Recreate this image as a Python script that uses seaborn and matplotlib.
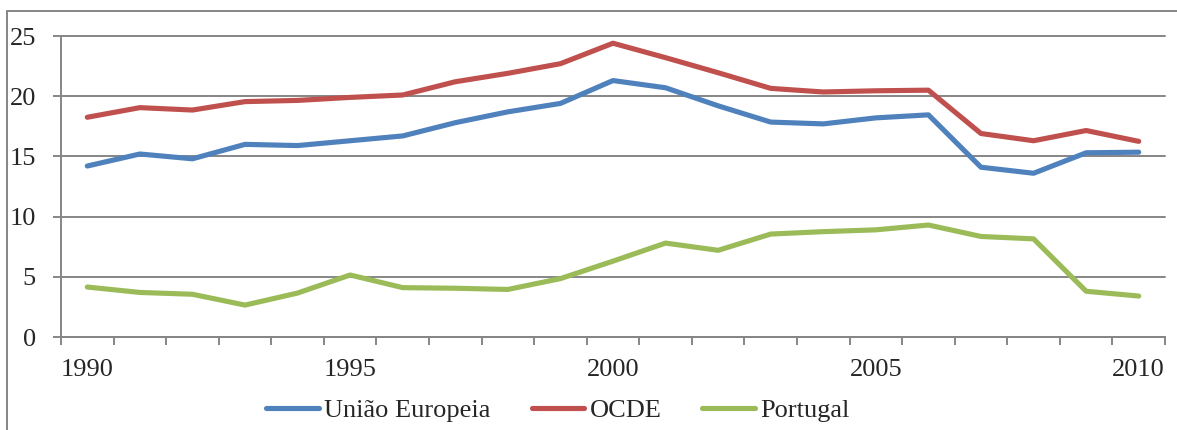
import matplotlib
matplotlib.use("Agg")
import matplotlib.pyplot as plt
from matplotlib.lines import Line2D
from matplotlib.ticker import FixedLocator, NullFormatter
import numpy as np
import pandas as pd
import seaborn as sns

years = list(range(1990, 2011))
uniao_europeia = [14.2, 15.2, 14.8, 16.0, 15.9, 16.3, 16.7, 17.8, 18.7, 19.4, 21.3,
                  20.7, 19.2, 17.85, 17.7, 18.2, 18.45, 14.1, 13.6, 15.3, 15.35]
ocde = [18.25, 19.05, 18.85, 19.55, 19.65, 19.9, 20.1, 21.2, 21.9, 22.7, 24.4,
        23.2, 21.95, 20.65, 20.35, 20.45, 20.5, 16.9, 16.3, 17.15, 16.25]
portugal = [4.15, 3.7, 3.55, 2.65, 3.65, 5.15, 4.1, 4.05, 3.95, 4.85, 6.3,
            7.8, 7.2, 8.55, 8.75, 8.9, 9.3, 8.35, 8.15, 3.8, 3.4]

series_names = ["União Europeia", "OCDE", "Portugal"]
colors = ["#4F81BD", "#C0504D", "#9BBB59"]
x_labels = [1990, 1995, 2000, 2005, 2010]

df = pd.DataFrame({
    "Ano": years * 3,
    "Valor": uniao_europeia + ocde + portugal,
    "Série": [series_names[0]] * len(years) + [series_names[1]] * len(years)
             + [series_names[2]] * len(years),
})

sns.set_style("white")
plt.rcParams["font.family"] = ["Liberation Serif", "DejaVu Serif"]
FS = 19
GRID = "#868686"

fig = plt.figure(figsize=(11.77, 4.30), dpi=100)
ax = fig.add_axes([61 / 1177, 1 - 337 / 430, (1165 - 61) / 1177, (337 - 36) / 430])

sns.lineplot(data=df, x="Ano", y="Valor", hue="Série", hue_order=series_names,
             palette=colors, linewidth=3.7, ax=ax, legend=False,
             solid_capstyle="round", solid_joinstyle="round")

ax.set_xlim(1989.5, 2010.5)
ax.set_ylim(0, 25)
ax.set_xlabel("")
ax.set_ylabel("")

# horizontal gridlines every 5 units
ax.set_yticks([0, 5, 10, 15, 20, 25])
ax.yaxis.grid(True, color=GRID, linewidth=1.4)
ax.xaxis.grid(False)
ax.set_axisbelow(True)
for gl in ax.get_ygridlines():
    gl.set_clip_on(False)

# year labels centred on categories, tick marks at category boundaries
ax.set_xticks(x_labels)
ax.set_xticklabels([str(v) for v in x_labels])
ax.xaxis.set_minor_locator(FixedLocator(np.arange(1989.5, 2011.0, 1.0)))
ax.xaxis.set_minor_formatter(NullFormatter())
ax.tick_params(axis="x", which="major", length=0, pad=16, labelsize=FS)
ax.tick_params(axis="x", which="minor", length=6, width=1.4, color=GRID,
               direction="out", bottom=True)
ax.tick_params(axis="y", which="major", length=6, width=1.4, color=GRID,
               direction="out", left=True, pad=12, labelsize=FS)

for side in ["top", "right"]:
    ax.spines[side].set_visible(False)
for side in ["left", "bottom"]:
    ax.spines[side].set_color(GRID)
    ax.spines[side].set_linewidth(1.4)

# outer chart border (left and top edges)
fig.add_artist(Line2D([7.3 / 1177, 7.3 / 1177], [0, 1 - 10.7 / 430],
                      color=GRID, linewidth=1.4, transform=fig.transFigure))
fig.add_artist(Line2D([7.3 / 1177, 1.0], [1 - 10.7 / 430, 1 - 10.7 / 430],
                      color=GRID, linewidth=1.4, transform=fig.transFigure))

handles = [Line2D([0], [0], color=c, linewidth=3.7, solid_capstyle="round")
           for c in colors]
fig.legend(handles, series_names, loc="center",
           bbox_to_anchor=(558 / 1177, 1 - 410 / 430),
           ncol=3, frameon=False, fontsize=FS, handlelength=2.0,
           handletextpad=0.2, columnspacing=1.55, borderaxespad=0)

fig.savefig("out.png", dpi=100)
